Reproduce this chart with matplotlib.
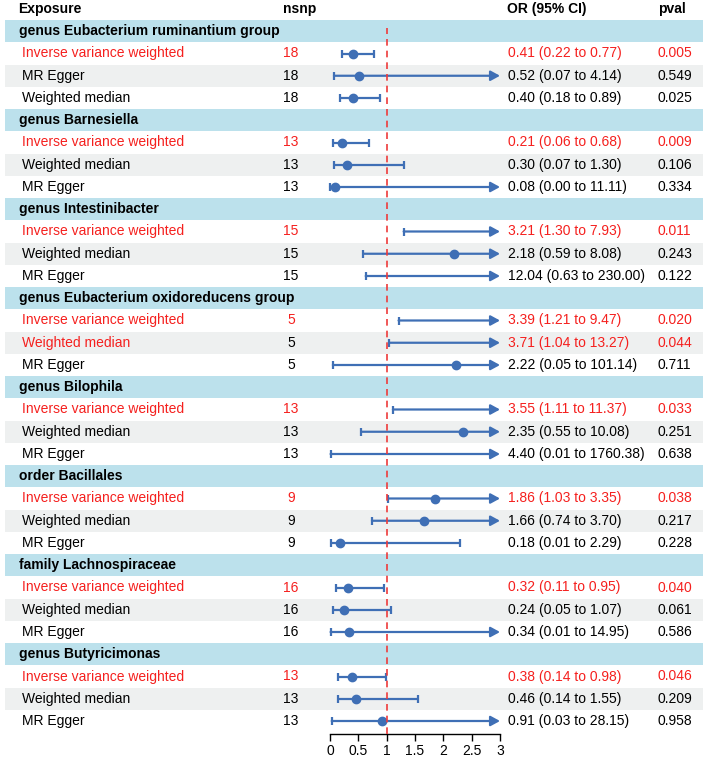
import matplotlib
matplotlib.use("Agg")
import matplotlib.pyplot as plt
import numpy as np

plt.rcParams['font.family'] = ['Liberation Sans', 'DejaVu Sans']

# ---------------- data ----------------
groups = ["genus Eubacterium ruminantium group", "genus Barnesiella", "genus Intestinibacter",
          "genus Eubacterium oxidoreducens group", "genus Bilophila", "order Bacillales",
          "family Lachnospiraceae", "genus Butyricimonas"]
methods = [
    ["Inverse variance weighted", "MR Egger", "Weighted median"],
    ["Inverse variance weighted", "Weighted median", "MR Egger"],
    ["Inverse variance weighted", "Weighted median", "MR Egger"],
    ["Inverse variance weighted", "Weighted median", "MR Egger"],
    ["Inverse variance weighted", "Weighted median", "MR Egger"],
    ["Inverse variance weighted", "Weighted median", "MR Egger"],
    ["Inverse variance weighted", "Weighted median", "MR Egger"],
    ["Inverse variance weighted", "Weighted median", "MR Egger"],
]
nsnp = [[18, 18, 18], [13, 13, 13], [15, 15, 15], [5, 5, 5],
        [13, 13, 13], [9, 9, 9], [16, 16, 16], [13, 13, 13]]
or_est = [[0.41, 0.52, 0.40], [0.21, 0.30, 0.08], [3.21, 2.18, 12.04], [3.39, 3.71, 2.22],
          [3.55, 2.35, 4.40], [1.86, 1.66, 0.18], [0.32, 0.24, 0.34], [0.38, 0.46, 0.91]]
or_low = [[0.22, 0.07, 0.18], [0.06, 0.07, 0.00], [1.30, 0.59, 0.63], [1.21, 1.04, 0.05],
          [1.11, 0.55, 0.01], [1.03, 0.74, 0.01], [0.11, 0.05, 0.01], [0.14, 0.14, 0.03]]
or_up = [[0.77, 4.14, 0.89], [0.68, 1.30, 11.11], [7.93, 8.08, 230.00], [9.47, 13.27, 101.14],
         [11.37, 10.08, 1760.38], [3.35, 3.70, 2.29], [0.95, 1.07, 14.95], [0.98, 1.55, 28.15]]
pval = [["0.005", "0.549", "0.025"], ["0.009", "0.106", "0.334"], ["0.011", "0.243", "0.122"],
        ["0.020", "0.044", "0.711"], ["0.033", "0.251", "0.638"], ["0.038", "0.217", "0.228"],
        ["0.040", "0.061", "0.586"], ["0.046", "0.209", "0.958"]]
# highlighted (red) rows
red_rows = [[True, False, False], [True, False, False], [True, False, False], [True, True, False],
            [True, False, False], [True, False, False], [True, False, False], [True, False, False]]
red_nsnp = [[True, False, False], [True, False, False], [True, False, False], [True, False, False],
            [True, False, False], [True, False, False], [True, False, False], [True, False, False]]
x_ticks = [0, 0.5, 1, 1.5, 2, 2.5, 3]
x_ticklabels = ["0", "0.5", "1", "1.5", "2", "2.5", "3"]

# ---------------- layout ----------------
W, H = 709, 758
fig = plt.figure(figsize=(W / 100, H / 100), dpi=100)
Y0, DY = 9.0, 22.25  # pixel y of row 0 and row spacing


def row_of(py):
    return (py - Y0) / DY


bg = fig.add_axes([0, 0, 1, 1])
bg.set_xlim(0, W)
bg.set_ylim(row_of(H), row_of(0))
bg.axis("off")

BLUE = "#3F6FB5"
RED = "#F5201E"
BAND = "#BCE1EC"
GREY = "#EEF0F0"
FS = 10

# header
bg.text(18, 0, "Exposure", fontsize=FS, fontweight="bold", va="center", ha="left")
bg.text(283, 0, "nsnp", fontsize=FS, fontweight="bold", va="center", ha="left")
bg.text(507, 0, "OR (95% CI)", fontsize=FS, fontweight="bold", va="center", ha="left")
bg.text(658, 0, "pval", fontsize=FS, fontweight="bold", va="center", ha="left")

ax = fig.add_axes([330 / W, (H - 734) / H, 170 / W, (734 - 22) / H])
ax.patch.set_alpha(0)
ax.set_xlim(0, 3)
ax.set_ylim(row_of(734), row_of(22))
for s in ["top", "left", "right"]:
    ax.spines[s].set_visible(False)
ax.spines["bottom"].set_linewidth(1.0)
ax.set_yticks([])
ax.set_xticks(x_ticks)
ax.set_xticklabels(x_ticklabels, fontsize=FS)
ax.tick_params(axis="x", length=5, width=1.0, pad=2)

row = 1
for g in range(len(groups)):
    bg.add_patch(plt.Rectangle((5, row - 0.5), 698, 1.0, color=BAND, lw=0, zorder=0))
    bg.text(19, row, groups[g], fontsize=FS, fontweight="bold", va="center", ha="left")
    row += 1
    for k in range(3):
        if k == 1:
            bg.add_patch(plt.Rectangle((5, row - 0.5), 698, 1.0, color=GREY, lw=0, zorder=0))
        c = RED if red_rows[g][k] else "black"
        cn = RED if red_nsnp[g][k] else "black"
        bg.text(22, row, methods[g][k], fontsize=FS, color=c, va="center", ha="left")
        bg.text(291, row, str(nsnp[g][k]), fontsize=FS, color=cn, va="center", ha="center")
        bg.text(508, row, "%.2f (%.2f to %.2f)" % (or_est[g][k], or_low[g][k], or_up[g][k]),
                fontsize=FS, color=c, va="center", ha="left")
        bg.text(658, row, pval[g][k], fontsize=FS, color=c, va="center", ha="left")

        lo, hi, est = or_low[g][k], or_up[g][k], or_est[g][k]
        lo_c, hi_c = max(lo, 0.0), min(hi, 3.0)
        if hi > 3:
            ax.annotate("", xy=(3.0, row), xytext=(lo_c, row),
                        arrowprops=dict(arrowstyle="-|>,head_length=0.55,head_width=0.3",
                                        color=BLUE, lw=1.6, shrinkA=0, shrinkB=0),
                        annotation_clip=False)
        else:
            ax.plot([lo_c, hi_c], [row, row], color=BLUE, lw=1.6, clip_on=False,
                    solid_capstyle="butt")
            ax.plot([hi_c], [row], marker="|", color=BLUE, ms=6, mew=1.6, clip_on=False)
        ax.plot([lo_c], [row], marker="|", color=BLUE, ms=6, mew=1.6, clip_on=False)
        if est <= 3:
            ax.plot([est], [row], marker="o", color=BLUE, ms=6, clip_on=False, zorder=4)
        row += 1

ax.axvline(1, ymin=0, ymax=(734 - 28) / (734 - 22), color="#EE3B3B", lw=1.2,
           ls=(0, (4, 3)), zorder=5)

fig.savefig("out.png", dpi=100)
